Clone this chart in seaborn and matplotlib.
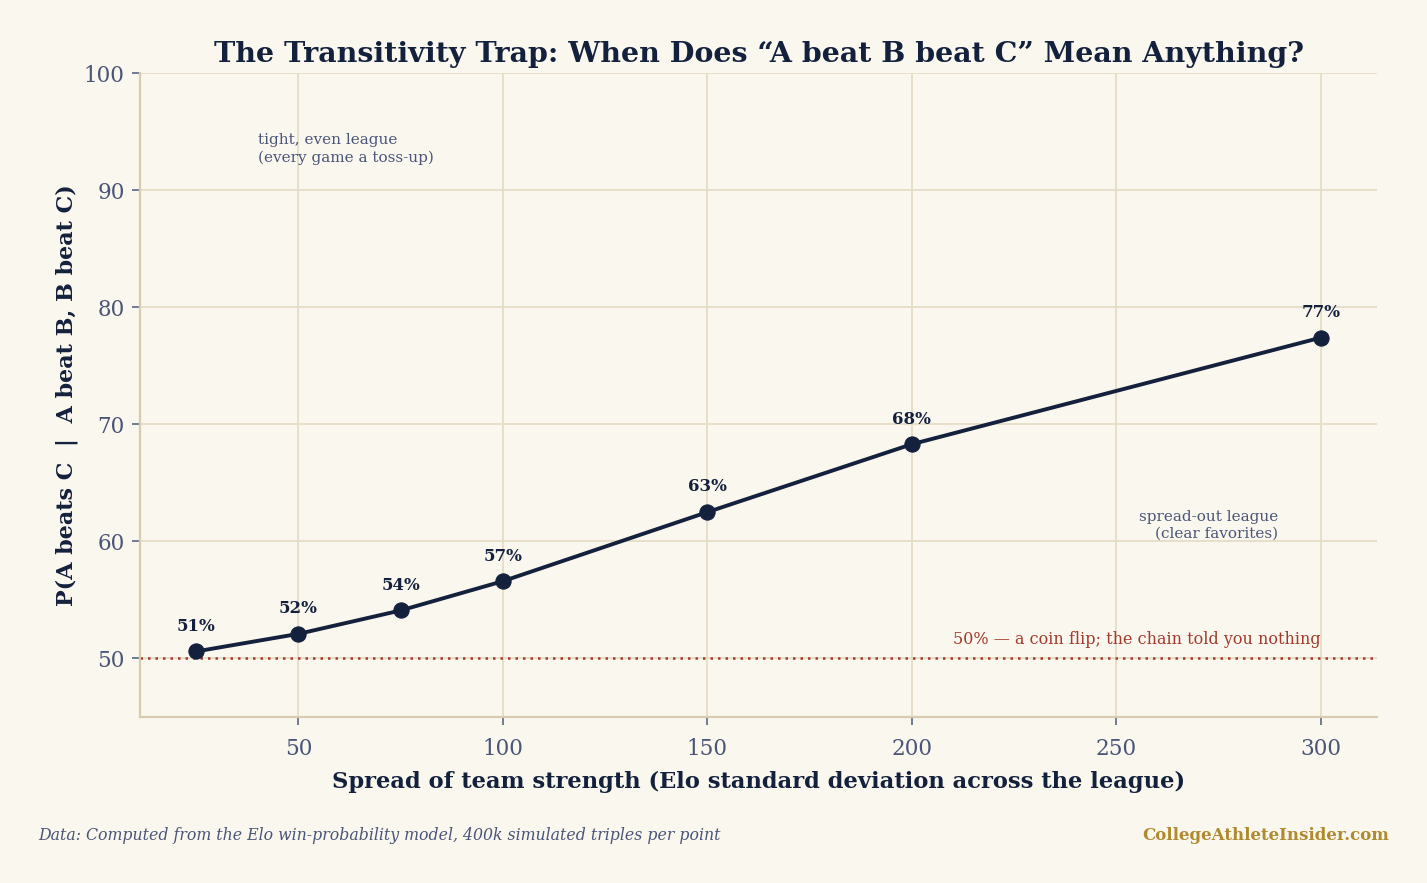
import matplotlib
matplotlib.use("Agg")
import matplotlib.pyplot as plt
import seaborn as sns
import pandas as pd

# data
spread = [25, 50, 75, 100, 150, 200, 300]
p_transitive = [50.6, 52.1, 54.1, 56.6, 62.5, 68.3, 77.4]
labels = ["51%", "52%", "54%", "57%", "63%", "68%", "77%"]

navy = "#14213d"
muted = "#4a5578"
bg = "#faf7ef"
red = "#a33a2b"
gold = "#b08a2e"

sns.set_theme(style="whitegrid")
plt.rcParams["font.family"] = ["DejaVu Serif"]

df = pd.DataFrame({"spread": spread, "p": p_transitive})

fig = plt.figure(figsize=(14.27, 8.83), dpi=100, facecolor=bg)
ax = fig.add_axes([0.0981, 0.188, 0.8669, 0.7293])
ax.set_facecolor(bg)

sns.lineplot(data=df, x="spread", y="p", ax=ax, color=navy, linewidth=2.8,
             marker="o", markersize=11, markeredgecolor=navy, zorder=3)

for x, y, t in zip(spread, p_transitive, labels):
    ax.annotate(t, (x, y), xytext=(0, 12), textcoords="offset points",
                ha="center", va="bottom", fontsize=12, fontweight="bold", color=navy)

ax.axhline(50, color=red, linestyle=(0, (1, 2)), linewidth=1.8, zorder=2)
ax.text(300, 50.9, "50% — a coin flip; the chain told you nothing", ha="right",
        va="bottom", fontsize=11.5, color=red)

ax.text(40, 94.9, "tight, even league\n(every game a toss-up)", ha="left", va="top",
        fontsize=11, color=muted, linespacing=1.3)
ax.text(289.5, 62.7, "spread-out league\n(clear favorites)", ha="right", va="top",
        fontsize=11, color=muted, linespacing=1.3, multialignment="right")

ax.set_xlim(11.25, 313.75)
ax.set_ylim(45, 100)
ax.set_xticks([50, 100, 150, 200, 250, 300])
ax.set_yticks([50, 60, 70, 80, 90, 100])
ax.grid(True, color="#e6ddc6", linewidth=1.3)
ax.tick_params(axis="both", colors=muted, labelsize=15.5, length=6, width=1.2,
               direction="out", bottom=True, left=True)
ax.tick_params(axis="x", pad=9)
ax.tick_params(axis="y", pad=5)
ax.tick_params(axis="both", color="#5a6585")
for side in ["top", "right"]:
    ax.spines[side].set_visible(False)
for side in ["left", "bottom"]:
    ax.spines[side].set_color("#d8ccb0")
    ax.spines[side].set_linewidth(1.6)

ax.set_xlabel("Spread of team strength (Elo standard deviation across the league)",
              fontsize=16.3, fontweight="bold", color=navy, labelpad=8)
ax.set_ylabel("P(A beats C  |  A beat B, B beat C)", fontsize=16,
              fontweight="bold", color=navy, labelpad=4)
ax.set_title("The Transitivity Trap: When Does \u201cA beat B beat C\u201d Mean Anything?",
             fontsize=20.5, fontweight="bold", color=navy, pad=8)

fig.text(38 / 1427, 1 - 835 / 883, "Data: Computed from the Elo win-probability model, 400k simulated triples per point",
         ha="left", va="center", fontsize=11.3, style="italic", color=muted)
fig.text(1389 / 1427, 1 - 835 / 883, "CollegeAthleteInsider.com", ha="right", va="center",
         fontsize=12, fontweight="bold", color=gold)

fig.savefig("out.png", dpi=100, facecolor=bg)
